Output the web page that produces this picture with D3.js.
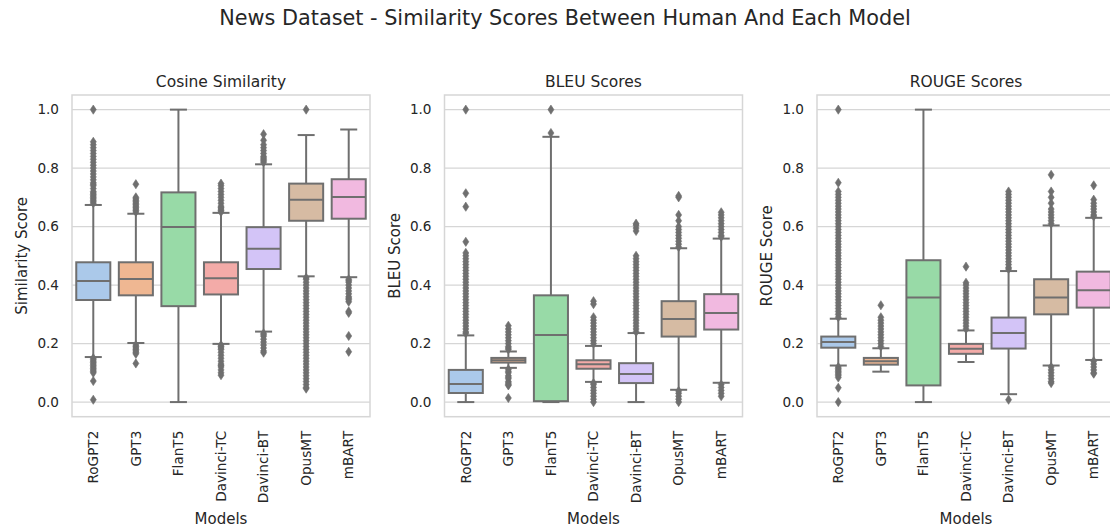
<!DOCTYPE html>
<html>
<head>
<meta charset="utf-8">
<script src="https://cdn.jsdelivr.net/npm/d3@7"></script>
<style>
  body { margin: 0; background: #fff; }
  svg { display: block; font-family: "DejaVu Sans", sans-serif; }
</style>
</head>
<body>
<svg id="chart" width="1110" height="532"></svg>
<script>
// models on the x axis, same order in every panel
const models = ['RoGPT2', 'GPT3', 'FlanT5', 'Davinci-TC', 'Davinci-BT', 'OpusMT', 'mBART'];
const palette = ['#a1c9f4', '#ffb482', '#8de5a1', '#ff9f9b', '#d0bbff', '#debb9b', '#fab0e4'];
const yTicks = [0, 0.2, 0.4, 0.6, 0.8, 1.0];

// cosine similarity: whisker low, q1, median, q3, whisker high
const cosineLow = [0.154, 0.202, 0.0, 0.199, 0.241, 0.430, 0.427];
const cosineQ1 = [0.349, 0.365, 0.328, 0.368, 0.455, 0.620, 0.627];
const cosineMed = [0.414, 0.421, 0.599, 0.423, 0.524, 0.692, 0.701];
const cosineQ3 = [0.478, 0.478, 0.717, 0.478, 0.598, 0.747, 0.762];
const cosineHigh = [0.674, 0.644, 1.0, 0.647, 0.813, 0.913, 0.932];
const cosineFliers = [
  [0.68, 0.685, 0.69, 0.695, 0.70, 0.705, 0.71, 0.715, 0.72, 0.73, 0.74, 0.745, 0.75, 0.76, 0.77, 0.78, 0.79, 0.80,
    0.81, 0.82, 0.83, 0.84, 0.85, 0.86, 0.87, 0.88, 0.89, 1.0,
    0.15, 0.145, 0.14, 0.135, 0.13, 0.125, 0.12, 0.115, 0.11, 0.105, 0.10, 0.072, 0.008],
  [0.65, 0.655, 0.66, 0.665, 0.67, 0.675, 0.68, 0.685, 0.69, 0.695, 0.70, 0.745,
    0.195, 0.19, 0.185, 0.18, 0.175, 0.17, 0.165, 0.132],
  [],
  [0.65, 0.655, 0.66, 0.665, 0.67, 0.68, 0.69, 0.70, 0.71, 0.72, 0.73, 0.74, 0.747,
    0.195, 0.19, 0.185, 0.18, 0.17, 0.16, 0.15, 0.14, 0.13, 0.125, 0.12, 0.11, 0.10, 0.092],
  [0.82, 0.825, 0.83, 0.835, 0.84, 0.85, 0.86, 0.87, 0.88, 0.895, 0.916,
    0.235, 0.23, 0.225, 0.215, 0.205, 0.195, 0.185, 0.175, 0.169],
  [1.0, 0.425, 0.42, 0.41, 0.40, 0.39, 0.38, 0.37, 0.36, 0.35, 0.34, 0.33, 0.32, 0.31, 0.30, 0.29, 0.28, 0.27,
    0.26, 0.25, 0.24, 0.23, 0.22, 0.21, 0.20, 0.19, 0.18, 0.17, 0.16, 0.15, 0.14, 0.13, 0.12, 0.11, 0.10,
    0.09, 0.08, 0.07, 0.06, 0.05, 0.046],
  [0.42, 0.415, 0.41, 0.40, 0.39, 0.38, 0.37, 0.36, 0.355, 0.35, 0.343, 0.31, 0.305, 0.226, 0.172],
];

// BLEU scores
const bleuLow = [0.0, 0.117, 0.0, 0.069, 0.0, 0.042, 0.066];
const bleuQ1 = [0.031, 0.135, 0.003, 0.114, 0.065, 0.224, 0.248];
const bleuMed = [0.062, 0.143, 0.229, 0.129, 0.096, 0.284, 0.305];
const bleuQ3 = [0.110, 0.151, 0.365, 0.143, 0.133, 0.345, 0.369];
const bleuHigh = [0.228, 0.173, 0.907, 0.192, 0.236, 0.526, 0.559];
const bleuFliers = [
  [0.235, 0.24, 0.25, 0.26, 0.27, 0.28, 0.29, 0.30, 0.31, 0.32, 0.33, 0.34, 0.35, 0.36, 0.37, 0.38, 0.39, 0.40,
    0.41, 0.42, 0.43, 0.44, 0.45, 0.46, 0.47, 0.48, 0.49, 0.50, 0.51, 0.548, 0.668, 0.714, 1.0],
  [0.18, 0.185, 0.19, 0.20, 0.21, 0.22, 0.23, 0.24, 0.25, 0.261,
    0.112, 0.105, 0.10, 0.09, 0.085, 0.08, 0.07, 0.065, 0.06, 0.057, 0.014],
  [0.92, 1.0],
  [0.20, 0.21, 0.22, 0.23, 0.24, 0.25, 0.26, 0.27, 0.28, 0.29, 0.335, 0.345,
    0.065, 0.06, 0.05, 0.04, 0.03, 0.02, 0.01, 0.0],
  [0.24, 0.25, 0.26, 0.27, 0.28, 0.29, 0.30, 0.31, 0.32, 0.33, 0.34, 0.35, 0.36, 0.37, 0.38, 0.39, 0.40, 0.41,
    0.42, 0.43, 0.44, 0.45, 0.46, 0.47, 0.48, 0.49, 0.50, 0.585, 0.595, 0.605, 0.61],
  [0.53, 0.54, 0.55, 0.56, 0.57, 0.58, 0.59, 0.60, 0.62, 0.64, 0.70, 0.705,
    0.038, 0.03, 0.02, 0.01, 0.0],
  [0.565, 0.57, 0.58, 0.59, 0.60, 0.61, 0.62, 0.63, 0.64, 0.649, 0.06, 0.05, 0.04, 0.03, 0.02],
];

// ROUGE scores
const rougeLow = [0.125, 0.104, 0.0, 0.137, 0.027, 0.125, 0.144];
const rougeQ1 = [0.186, 0.128, 0.057, 0.165, 0.183, 0.300, 0.323];
const rougeMed = [0.205, 0.140, 0.358, 0.182, 0.236, 0.358, 0.382];
const rougeQ3 = [0.224, 0.151, 0.485, 0.199, 0.289, 0.420, 0.446];
const rougeHigh = [0.285, 0.184, 1.0, 0.245, 0.448, 0.604, 0.630];
const rougeFliers = [
  [0.29, 0.30, 0.31, 0.32, 0.33, 0.34, 0.35, 0.36, 0.37, 0.38, 0.39, 0.40, 0.41, 0.42, 0.43, 0.44, 0.45, 0.46,
    0.47, 0.48, 0.49, 0.50, 0.51, 0.52, 0.53, 0.54, 0.55, 0.56, 0.57, 0.58, 0.59, 0.60, 0.61, 0.62, 0.63, 0.64,
    0.65, 0.66, 0.67, 0.68, 0.69, 0.70, 0.71, 0.72, 0.75, 1.0,
    0.12, 0.115, 0.11, 0.105, 0.10, 0.095, 0.09, 0.084, 0.049, 0.0],
  [0.19, 0.20, 0.21, 0.22, 0.23, 0.24, 0.25, 0.26, 0.27, 0.28, 0.29, 0.331],
  [],
  [0.25, 0.26, 0.27, 0.28, 0.29, 0.30, 0.31, 0.32, 0.33, 0.34, 0.35, 0.36, 0.37, 0.38, 0.39, 0.40, 0.408, 0.463],
  [0.455, 0.46, 0.47, 0.48, 0.49, 0.50, 0.51, 0.52, 0.53, 0.54, 0.55, 0.56, 0.57, 0.58, 0.59, 0.60, 0.61,
    0.62, 0.63, 0.64, 0.65, 0.66, 0.67, 0.68, 0.69, 0.70, 0.71, 0.72, 0.008],
  [0.61, 0.62, 0.63, 0.64, 0.65, 0.66, 0.68, 0.70, 0.72, 0.777, 0.12, 0.11, 0.10, 0.09, 0.08, 0.07, 0.065],
  [0.635, 0.64, 0.65, 0.66, 0.67, 0.68, 0.692, 0.741, 0.14, 0.13, 0.12, 0.11, 0.10, 0.097],
];

const panels = [
  {title: 'Cosine Similarity', ylabel: 'Similarity Score',
    low: cosineLow, q1: cosineQ1, med: cosineMed, q3: cosineQ3, high: cosineHigh, fliers: cosineFliers},
  {title: 'BLEU Scores', ylabel: 'BLEU Score',
    low: bleuLow, q1: bleuQ1, med: bleuMed, q3: bleuQ3, high: bleuHigh, fliers: bleuFliers},
  {title: 'ROUGE Scores', ylabel: 'ROUGE Score',
    low: rougeLow, q1: rougeQ1, med: rougeMed, q3: rougeQ3, high: rougeHigh, fliers: rougeFliers},
];

// layout ---------------------------------------------------------------
const panelLeft = [72, 444.5, 817];
const panelW = 298;
const plotTop = 95;
const plotBottom = 416.7;
const textColor = '#262626';
const gridColor = '#d6d6d6';
const lineGray = '#6f6f6f';

const svg = d3.select('#chart');

svg.append('text')
    .attr('x', 565)
    .attr('y', 25)
    .attr('text-anchor', 'middle')
    .attr('font-size', 20.8)
    .attr('fill', textColor)
    .text('News Dataset - Similarity Scores Between Human And Each Model');

// seaborn boxplot desaturates the palette a bit
const boxFill = palette.map((c) => {
  const h = d3.hsl(c);
  h.s *= 0.75;
  return h.formatHex();
});

const diamond = (w, h) => `M0,${-h}L${w},0L0,${h}L${-w},0Z`;

panels.forEach((p, pi) => {
  const x0 = panelLeft[pi];
  const g = svg.append('g');

  const x = d3.scaleBand()
      .domain(models)
      .range([x0, x0 + panelW]);
  const y = d3.scaleLinear()
      .domain([-0.05, 1.05])
      .range([plotBottom, plotTop]);

  const bw = x.bandwidth() * 0.8;

  // grid
  g.append('g')
      .selectAll('line')
      .data(yTicks)
      .join('line')
      .attr('x1', x0)
      .attr('x2', x0 + panelW)
      .attr('y1', (d) => y(d))
      .attr('y2', (d) => y(d))
      .attr('stroke', gridColor)
      .attr('stroke-width', 1.2);

  // y axis labels
  const yAxis = g.append('g')
      .attr('transform', `translate(${x0},0)`)
      .call(d3.axisLeft(y).tickValues(yTicks).tickFormat(d3.format('.1f')).tickSize(0).tickPadding(13));
  yAxis.select('.domain').remove();
  yAxis.selectAll('text')
      .attr('font-size', 13.6)
      .attr('font-family', '"DejaVu Sans", sans-serif')
      .attr('fill', textColor);

  // x axis labels, rotated
  const xAxis = g.append('g')
      .attr('transform', `translate(0,${plotBottom})`)
      .call(d3.axisBottom(x).tickSize(0).tickPadding(0));
  xAxis.select('.domain').remove();
  xAxis.selectAll('text')
      .attr('font-size', 13.6)
      .attr('font-family', '"DejaVu Sans", sans-serif')
      .attr('fill', textColor)
      .attr('text-anchor', 'end')
      .attr('transform', 'translate(0,14) rotate(-90)')
      .attr('x', 0)
      .attr('y', 0)
      .attr('dy', '0.35em');

  // one group per model
  const boxes = g.append('g')
      .selectAll('g')
      .data(models)
      .join('g')
      .attr('transform', (d) => `translate(${x(d) + x.bandwidth() / 2},0)`);

  // whiskers
  boxes.append('line')
      .attr('y1', (d, i) => y(p.q1[i]))
      .attr('y2', (d, i) => y(p.low[i]))
      .attr('stroke', lineGray)
      .attr('stroke-width', 2);
  boxes.append('line')
      .attr('y1', (d, i) => y(p.q3[i]))
      .attr('y2', (d, i) => y(p.high[i]))
      .attr('stroke', lineGray)
      .attr('stroke-width', 2);
  // caps
  boxes.append('line')
      .attr('x1', -bw / 4)
      .attr('x2', bw / 4)
      .attr('y1', (d, i) => y(p.low[i]))
      .attr('y2', (d, i) => y(p.low[i]))
      .attr('stroke', lineGray)
      .attr('stroke-width', 2);
  boxes.append('line')
      .attr('x1', -bw / 4)
      .attr('x2', bw / 4)
      .attr('y1', (d, i) => y(p.high[i]))
      .attr('y2', (d, i) => y(p.high[i]))
      .attr('stroke', lineGray)
      .attr('stroke-width', 2);
  // box
  boxes.append('rect')
      .attr('x', -bw / 2)
      .attr('width', bw)
      .attr('y', (d, i) => y(p.q3[i]))
      .attr('height', (d, i) => y(p.q1[i]) - y(p.q3[i]))
      .attr('fill', (d, i) => boxFill[i])
      .attr('stroke', lineGray)
      .attr('stroke-width', 2);
  // median
  boxes.append('line')
      .attr('x1', -bw / 2)
      .attr('x2', bw / 2)
      .attr('y1', (d, i) => y(p.med[i]))
      .attr('y2', (d, i) => y(p.med[i]))
      .attr('stroke', lineGray)
      .attr('stroke-width', 2);
  // outliers
  boxes.each(function(d, i) {
    d3.select(this).selectAll('path.flier')
        .data(p.fliers[i])
        .join('path')
        .attr('class', 'flier')
        .attr('d', diamond(3, 4.6))
        .attr('transform', (v) => `translate(0,${y(v)})`)
        .attr('fill', lineGray)
        .attr('stroke', lineGray)
        .attr('stroke-width', 0.6);
  });

  // frame
  g.append('rect')
      .attr('x', x0)
      .attr('y', plotTop)
      .attr('width', panelW)
      .attr('height', plotBottom - plotTop)
      .attr('fill', 'none')
      .attr('stroke', gridColor)
      .attr('stroke-width', 1.5);

  g.append('text')
      .attr('x', x0 + panelW / 2)
      .attr('y', 87)
      .attr('text-anchor', 'middle')
      .attr('font-size', 15.5)
      .attr('fill', textColor)
      .text(p.title);

  g.append('text')
      .attr('transform', `translate(${x0 - 45},${(plotTop + plotBottom) / 2}) rotate(-90)`)
      .attr('text-anchor', 'middle')
      .attr('font-size', 15)
      .attr('fill', textColor)
      .text(p.ylabel);

  g.append('text')
      .attr('x', x0 + panelW / 2)
      .attr('y', 524)
      .attr('text-anchor', 'middle')
      .attr('font-size', 15)
      .attr('fill', textColor)
      .text('Models');
});
</script>
</body>
</html>
